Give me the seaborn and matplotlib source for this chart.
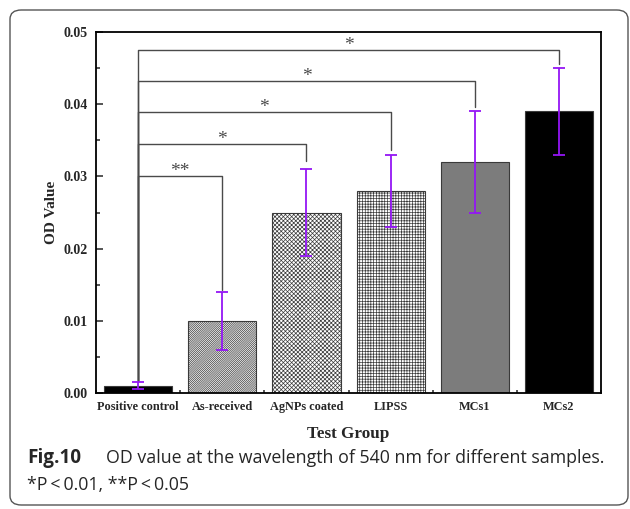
import numpy as np
import pandas as pd
import seaborn as sns
import matplotlib.pyplot as plt
from matplotlib.patches import FancyBboxPatch
from matplotlib.ticker import MultipleLocator

# Data
groups = ["Positive control", "As-received", "AgNPs coated", "LIPSS", "MCs1", "MCs2"]
od_values = [0.001, 0.010, 0.025, 0.028, 0.032, 0.039]
od_errors = [0.0005, 0.004, 0.006, 0.005, 0.007, 0.006]

# significance brackets (all against Positive control)
bracket_heights = [0.0300, 0.0345, 0.0389, 0.0432, 0.0475]
bracket_leg_ends = [0.0143, 0.0322, 0.0336, 0.0396, 0.0456]
bracket_marks = ["**", "*", "*", "*", "*"]

face_colors = ["#000000", "#ffffff", "#ffffff", "#ffffff", "#7c7c7c", "#000000"]
hatches = ["", "/" * 16, "x" * 8, "+" * 6, "", ""]

df = pd.DataFrame({"group": groups, "od": od_values})

sns.set_style("ticks")
plt.rcParams["hatch.linewidth"] = 0.5

fig = plt.figure(figsize=(6.3, 5.09), dpi=100)
ax = fig.add_axes([0.1524, 0.2279, 0.8016, 0.7092])

sns.barplot(data=df, x="group", y="od", hue="group", palette=face_colors,
            order=groups, width=0.81, legend=False, ax=ax, saturation=1)

for patch, h in zip(ax.patches, hatches):
    patch.set_hatch(h)
    patch.set_edgecolor("#3a3a3a")
    patch.set_linewidth(0.8)

ax.errorbar(x=np.arange(len(groups)), y=od_values, yerr=od_errors, fmt="none",
            ecolor="#9416f5", elinewidth=1.3, capsize=4, capthick=1.3, zorder=5)

# brackets
for i, (h, end, mark) in enumerate(zip(bracket_heights, bracket_leg_ends, bracket_marks), start=1):
    ax.plot([0, 0, i, i], [0.0016, h, h, end], color="#4a4a4a", lw=1.0, zorder=4)
    ax.text(i / 2, h - 0.0005, mark, ha="center", va="bottom", fontsize=14,
            color="#4a4a4a", family="Liberation Serif")

ax.set_xlim(-0.5, 5.5)
ax.set_ylim(0, 0.05)
ax.yaxis.set_major_locator(MultipleLocator(0.01))
ax.yaxis.set_minor_locator(MultipleLocator(0.005))
ax.set_xticks(range(len(groups)))
ax.set_xticks(np.arange(-0.5, 5.6, 1.0), minor=True)
ax.set_yticklabels([f"{v:.2f}" for v in ax.get_yticks()])

ax.tick_params(axis="y", which="major", direction="in", length=5, width=1.1, labelsize=10, pad=6)
ax.tick_params(axis="y", which="minor", direction="in", length=3, width=1.1)
ax.tick_params(axis="x", which="major", direction="in", length=3, width=1.1, labelsize=8.8, pad=6)
ax.tick_params(axis="x", which="minor", direction="in", length=2, width=1.1)
for lab in ax.get_xticklabels() + ax.get_yticklabels():
    lab.set_family("Liberation Serif")
    lab.set_fontweight("bold")

for sp in ax.spines.values():
    sp.set_linewidth(1.3)
    sp.set_color("black")

ax.set_xlabel("Test Group", fontsize=12.3, fontweight="bold", family="Liberation Serif", labelpad=9)
ax.set_ylabel("OD Value", fontsize=11, fontweight="bold", family="Liberation Serif", labelpad=4)

# caption and border
fig.text(27 / 630, 1 - 463 / 509, "Fig.10", fontsize=13.6, fontweight="bold",
         family="Open Sans", va="baseline", ha="left")
fig.text(106 / 630, 1 - 463 / 509, "OD value at the wavelength of 540 nm for different samples.",
         fontsize=12.8, family="Open Sans", va="baseline", ha="left")
fig.text(27 / 630, 1 - 490 / 509, "*P\u2009<\u20090.01, **P\u2009<\u20090.05", fontsize=12.8,
         family="Open Sans", va="baseline", ha="left")

border = FancyBboxPatch((10 / 630, 4 / 509), 618 / 630, 495 / 509,
                        boxstyle="round,pad=0,rounding_size=0.018",
                        transform=fig.transFigure, fill=False,
                        edgecolor="#555555", lw=1.0)
fig.patches.append(border)

fig.savefig("out.png", dpi=100)
